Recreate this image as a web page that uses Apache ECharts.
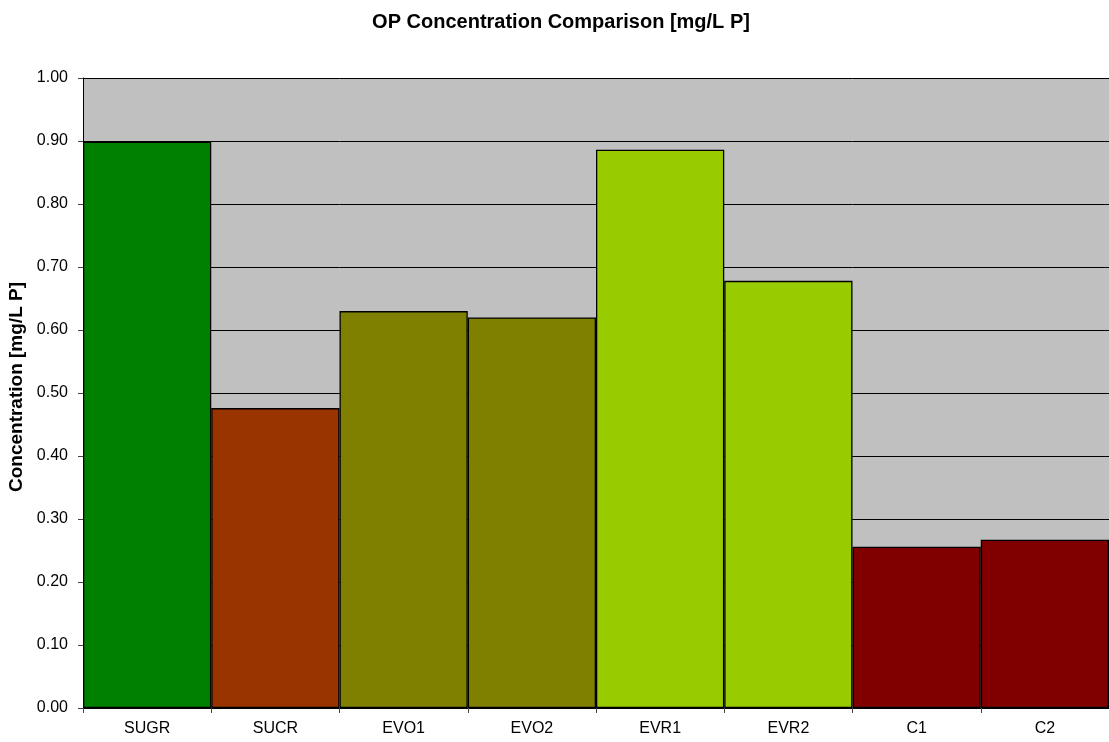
<!DOCTYPE html>
<html><head><meta charset="utf-8">
<script src="https://cdn.jsdelivr.net/npm/echarts@6/dist/echarts.min.js"></script>
<style>html,body{margin:0;padding:0;background:#fff}#c{width:1109px;height:742px}</style>
</head><body><div id="c"></div>
<script>
const categories = ['SUGR','SUCR','EVO1','EVO2','EVR1','EVR2','C1','C2'];
const values = [0.899, 0.476, 0.630, 0.620, 0.886, 0.678, 0.256, 0.267];
const colors = ['#008000','#993300','#808000','#808000','#99CC00','#99CC00','#800000','#800000'];
const chart = echarts.init(document.getElementById('c'));
const font = 'Liberation Sans, Arial, sans-serif';
chart.setOption({
  animation: false,
  backgroundColor: '#fff',
  title: {text: 'OP Concentration Comparison [mg/L P]', left: 556, textAlign: 'center', top: 7,
    textStyle: {fontFamily: font, fontSize: 20, fontWeight: 'bold', color: '#000'}},
  grid: {left: 83, right: 0, top: 78, bottom: 34, backgroundColor: '#C0C0C0', show: true, borderWidth: 0,
    containLabel: false, outerBoundsMode: 'none'},
  xAxis: {type: 'category', data: categories,
    axisLine: {lineStyle: {color: '#000', width: 1}},
    axisTick: {show: true, length: 5, lineStyle: {color: '#444'}, alignWithLabel: false},
    axisLabel: {fontFamily: font, fontSize: 16, color: '#000', margin: 13}},
  yAxis: {type: 'value', min: 0, max: 1, interval: 0.1,
    name: 'Concentration [mg/L P]', nameLocation: 'middle', nameGap: 50,
    nameTextStyle: {fontFamily: font, fontSize: 19, fontWeight: 'bold', color: '#000', padding: [0, 0, 0, 12]},
    axisLine: {show: true, lineStyle: {color: '#000'}},
    axisTick: {show: true, length: 5, lineStyle: {color: '#444'}},
    splitLine: {lineStyle: {color: '#000', width: 1}},
    axisLabel: {fontFamily: font, fontSize: 16, color: '#000', margin: 15, formatter: v => v.toFixed(2)}},
  series: [{type: 'bar', barWidth: '100%', barCategoryGap: 0,
    data: values.map((v,i) => ({value: v, itemStyle: {color: colors[i]}})),
    itemStyle: {borderColor: '#000', borderWidth: 1.3}}]
});
</script></body></html>
